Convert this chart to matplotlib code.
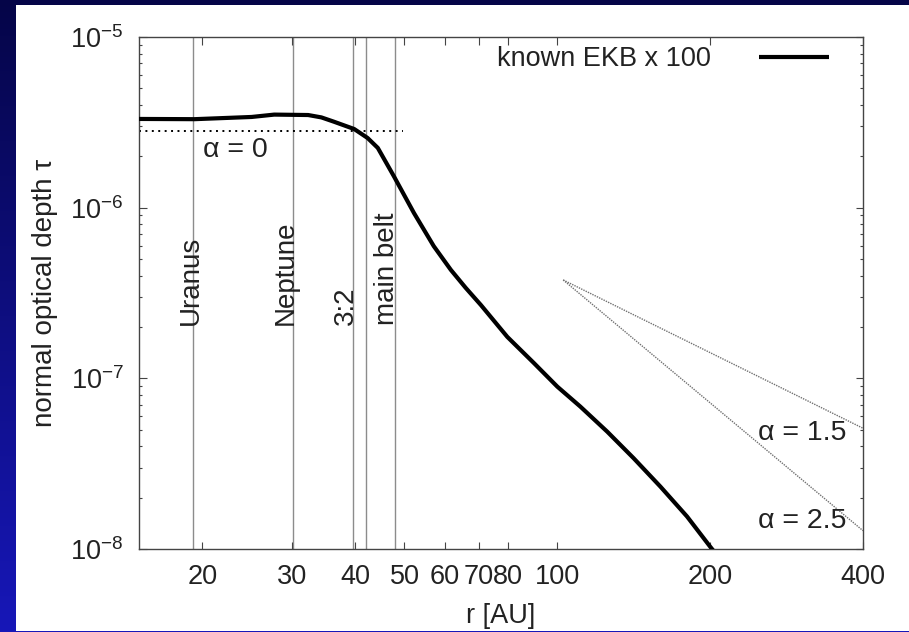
import numpy as np
import matplotlib
matplotlib.use("Agg")
import matplotlib.pyplot as plt
from matplotlib.colors import LinearSegmentedColormap
from matplotlib.patches import Rectangle
from matplotlib.ticker import FixedLocator, FixedFormatter, NullLocator, LogLocator, LogFormatterSciNotation

plt.rcParams['font.family'] = ['Liberation Sans', 'DejaVu Sans']
plt.rcParams['mathtext.default'] = 'regular'

# known EKB x 100
r_ekb = [15.0, 19.3, 25.0, 27.7, 32.3, 34.3, 36.3, 39.8, 42.3, 44.3, 47.7, 52.2, 57.1,
         61.7, 66.0, 70.7, 79.7, 89.9, 100.0, 111.0, 125.4, 141.4, 159.6, 180.1, 200.1, 210.0]
tau_ekb = [3.31e-6, 3.30e-6, 3.40e-6, 3.51e-6, 3.49e-6, 3.38e-6, 3.19e-6, 2.89e-6, 2.56e-6,
           2.24e-6, 1.52e-6, 9.3e-7, 5.95e-7, 4.32e-7, 3.39e-7, 2.69e-7, 1.75e-7, 1.23e-7,
           8.94e-8, 6.83e-8, 4.87e-8, 3.40e-8, 2.32e-8, 1.55e-8, 1.03e-8, 8.6e-9]

# alpha = 0 reference level
r_flat = [15.0, 49.6]
tau_flat = [2.82e-6, 2.82e-6]

# power law slopes alpha = 1.5 and 2.5
r_slope = [102.7, 400.0]
tau_a15 = [3.77e-7, 5.1e-8]
tau_a25 = [3.77e-7, 1.28e-8]

# vertical markers
mark_r = [19.2, 30.1, 39.5, 42.0, 48.0]
label_names = ['Uranus', 'Neptune', '3:2', 'main belt']
label_r = [19.6, 30.1, 39.5, 47.7]

xticks = [20, 30, 40, 50, 60, 70, 80, 100, 200, 400]
xticklabels = ['20', '30', '40', '50', '60', '70', '80', '100', '200', '400']

W, H = 909, 632
fig = plt.figure(figsize=(W / 100, H / 100), dpi=100)

# slide background
bg = fig.add_axes([0, 0, 1, 1], zorder=-10)
cmap = LinearSegmentedColormap.from_list('slide', ['#050548', '#1717b8'])
grad = np.linspace(0, 1, 256).reshape(-1, 1)
bg.imshow(grad, cmap=cmap, aspect='auto', extent=(0, 1, 0, 1), origin='upper')
bg.add_patch(Rectangle((16 / W, 1.5 / H), 1 - 16 / W, 1 - 6.5 / H,
                       facecolor='white', edgecolor='none'))
bg.set_xlim(0, 1)
bg.set_ylim(0, 1)
bg.axis('off')

ax = fig.add_axes([139 / W, 1 - 549 / H, (863 - 139) / W, (549 - 37) / H])
ax.set_facecolor('none')
ax.set_xscale('log')
ax.set_yscale('log')
ax.set_xlim(15, 400)
ax.set_ylim(1e-8, 1e-5)

for r in mark_r:
    ax.axvline(r, color='#8c8c8c', lw=1.0, zorder=1)

ax.plot(r_flat, tau_flat, color='black', lw=1.4, ls=(0, (1, 2.3)), zorder=2)
ax.plot(r_slope, tau_a15, color='#707070', lw=1.0, ls=(0, (1, 0.8)), zorder=2)
ax.plot(r_slope, tau_a25, color='#707070', lw=1.0, ls=(0, (1, 0.8)), zorder=2)
ax.plot(r_ekb, tau_ekb, color='black', lw=3.0, solid_capstyle='butt',
        solid_joinstyle='round', label='known EKB x 100', zorder=3)

fs = 19.5
for name, r in zip(label_names, label_r):
    ax.text(r, 2.06e-7, name, rotation=90, rotation_mode='anchor',
            ha='left', va='baseline', fontsize=20, color='#222222')

ax.text(23.2, 1.99e-6, 'α = 0', ha='center', va='baseline', fontsize=20.5, color='#222222')
ax.text(303, 4.36e-8, 'α = 1.5', ha='center', va='baseline', fontsize=20.5, color='#222222')
ax.text(303, 1.32e-8, 'α = 2.5', ha='center', va='baseline', fontsize=20.5, color='#222222')

leg = ax.legend(loc='center right', bbox_to_anchor=(690 / 724, 1 - 22.5 / 512),
                frameon=False, markerfirst=False, fontsize=fs,
                handlelength=2.6, handletextpad=1.75, borderpad=0, borderaxespad=0)
for t in leg.get_texts():
    t.set_color('#222222')

ax.xaxis.set_major_locator(FixedLocator(xticks))
ax.xaxis.set_major_formatter(FixedFormatter(xticklabels))
ax.xaxis.set_minor_locator(NullLocator())
ax.yaxis.set_major_locator(LogLocator(base=10, numticks=10))
ax.yaxis.set_minor_locator(LogLocator(base=10, subs=np.arange(2, 10), numticks=10))
ax.yaxis.set_major_formatter(LogFormatterSciNotation())

ax.tick_params(which='both', direction='in', top=True, right=True,
               color='#444444', width=0.8, labelsize=fs, labelcolor='#222222')
ax.tick_params(which='major', length=5.4, pad=11)
ax.tick_params(which='minor', length=2.5)
for s in ax.spines.values():
    s.set_color('#444444')
    s.set_linewidth(1.0)

ax.set_xlabel('r [AU]', fontsize=fs, color='#222222', labelpad=9)
ax.set_ylabel('normal optical depth τ', fontsize=20, color='#222222', labelpad=9)

fig.savefig('out.png', dpi=100)
